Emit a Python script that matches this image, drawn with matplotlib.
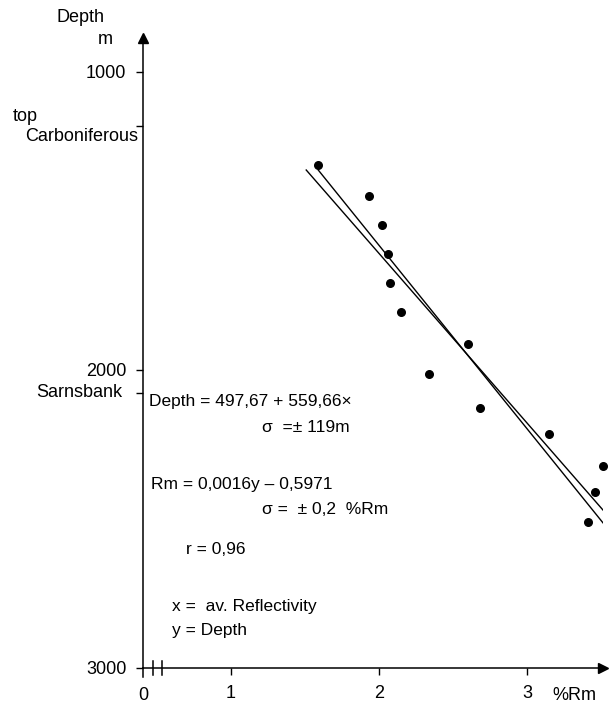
import matplotlib.pyplot as plt

# average reflectivity (%Rm) and depth (m) of the samples
rm = [1.589, 1.935, 2.018, 2.058, 2.074, 2.150, 2.599, 2.338, 2.680,
      3.148, 3.512, 3.454, 3.409]
depth = [1312, 1415, 1512, 1612, 1709, 1805, 1914, 2013, 2127,
         2216, 2321, 2410, 2510]

# the two regression lines as drawn (end points)
line1_x = [1.510, 3.510]
line1_y = [1329, 2470]
line2_x = [1.591, 3.510]
line2_y = [1329, 2513]

y_ticks = [1000, 2000, 3000]
x_ticks = [1, 2, 3]
top_carb = 1181
sarnsbank = 2077

W, H = 609, 706
FS = 13
plt.rcParams['font.family'] = ['Liberation Sans', 'DejaVu Sans']
fig = plt.figure(figsize=(W / 100, H / 100), dpi=100)

x0, x1 = 143, 603
y_top, y_bot = 38, 668
ax = fig.add_axes([x0 / W, (H - y_bot) / H, (x1 - x0) / W, (y_bot - y_top) / H])

ax.scatter(rm, depth, s=30, color='black', zorder=3, clip_on=False)
ax.plot(line1_x, line1_y, color='black', lw=1.0)
ax.plot(line2_x, line2_y, color='black', lw=1.0)

ax.set_xlim(0.41, 3.51)
ax.set_ylim(3000, 886)

for s in ['top', 'right']:
    ax.spines[s].set_visible(False)
for s in ['left', 'bottom']:
    ax.spines[s].set_linewidth(1.1)

ax.set_xticks(x_ticks)
ax.set_xticklabels([str(v) for v in x_ticks], fontsize=FS)
ax.set_yticks(y_ticks + [top_carb, sarnsbank])
ax.set_yticklabels([str(v) for v in y_ticks] + ['', ''], fontsize=FS)
ax.tick_params(length=5, width=1, pad=7)

# horizon labels next to their ticks
yt = ax.get_yaxis_transform()
ax.text(-0.283, top_carb - 30, 'top', transform=yt, ha='left', va='center', fontsize=FS)
ax.text(-0.011, top_carb + 35, 'Carboniferous', transform=yt, ha='right', va='center', fontsize=FS)
ax.text(-0.046, sarnsbank, 'Sarnsbank', transform=yt, ha='right', va='center', fontsize=FS)

# arrows and origin marks
ax.plot(0, 1, marker='^', color='black', ms=7, transform=ax.transAxes, clip_on=False)
ax.plot(1, 0, marker='>', color='black', ms=7, transform=ax.transAxes, clip_on=False)
ax.plot([0, 0], [0, -0.014], color='black', lw=1.1, transform=ax.transAxes, clip_on=False)
for bx in [0.022, 0.041]:
    ax.plot([bx, bx], [-0.011, 0.011], color='black', lw=1.1,
            transform=ax.transAxes, clip_on=False)
ax.text(0, -0.03, '0', transform=ax.transAxes, ha='center', va='top', fontsize=FS)
ax.text(0.891, -0.03, '%Rm', transform=ax.transAxes, ha='left', va='top', fontsize=FS)

fig.text(80 / W, 1 - 17 / H, 'Depth', ha='center', va='center', fontsize=FS)
fig.text(105 / W, 1 - 40 / H, 'm', ha='center', va='center', fontsize=FS)


# equations
def put(x, y, s):
    fig.text(x / W, 1 - y / H, s, ha='left', va='center', fontsize=12.5)


put(149, 402, 'Depth = 497,67 + 559,66×')
put(262, 427, 'σ  =± 119m')
put(151, 484, 'Rm = 0,0016y – 0,5971')
put(262, 510, 'σ =  ± 0,2  %Rm')
put(186, 549, 'r = 0,96')
put(172, 607, 'x =  av. Reflectivity')
put(172, 630, 'y = Depth')

fig.savefig('out.png', dpi=100)
